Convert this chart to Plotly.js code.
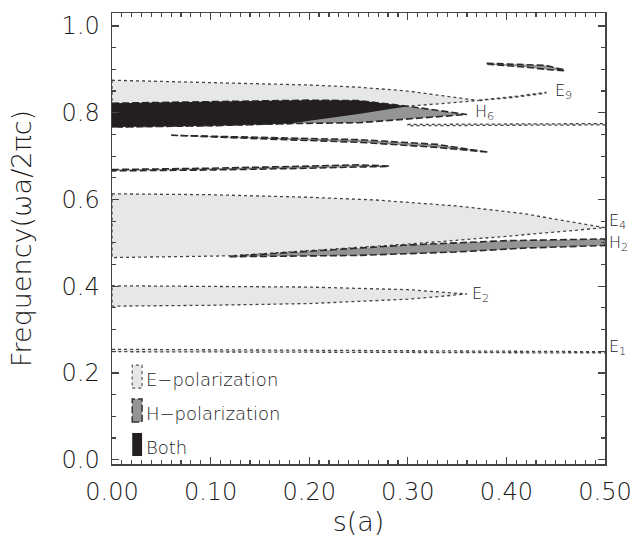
<!DOCTYPE html>
<html><head><meta charset="utf-8">
<script src="https://cdn.plot.ly/plotly-3.0.1.min.js"></script>
<style>html,body{margin:0;padding:0;background:#fff}#chart{width:635px;height:544px}</style>
</head><body><div id="chart"></div>
<script>
// ---- E-polarization gaps (s, frequency) ----
const e1S = [0, 0.25, 0.5];
const e1Top = [0.2545, 0.252, 0.249];
const e1Bot = [0.249, 0.247, 0.246];

const e2S = [0, 0.1, 0.2, 0.3, 0.36];
const e2Top = [0.401, 0.400, 0.398, 0.392, 0.382];
const e2Bot = [0.354, 0.356, 0.360, 0.370, 0.382];

const e4TopS = [0, 0.1, 0.2, 0.266, 0.35, 0.4155, 0.5];
const e4Top = [0.613, 0.611, 0.605, 0.599, 0.585, 0.568, 0.535];
const e4BotS = [0, 0.12, 0.2, 0.3, 0.4, 0.5];
const e4Bot = [0.466, 0.470, 0.482, 0.497, 0.515, 0.535];

const e6TopS = [0, 0.1, 0.2, 0.25, 0.3, 0.372];
const e6Top = [0.875, 0.870, 0.864, 0.859, 0.850, 0.828];
const e6BotS = [0, 0.1, 0.18, 0.25, 0.3, 0.372];
const e6Bot = [0.767, 0.770, 0.775, 0.797, 0.815, 0.828];

const e7S = [0.30, 0.40, 0.50];
const e7Top = [0.773, 0.774, 0.775];
const e7Bot = [0.770, 0.771, 0.772];

const e9S = [0.372, 0.41, 0.44];
const e9Top = [0.829, 0.838, 0.847];
const e9Bot = [0.828, 0.836, 0.845];

// ---- H-polarization gaps ----
const h2TopS = [0.12, 0.2, 0.3, 0.4, 0.5];
const h2Top = [0.469, 0.481, 0.495, 0.505, 0.509];
const h2BotS = [0.12, 0.25, 0.35, 0.42, 0.5];
const h2Bot = [0.468, 0.471, 0.479, 0.488, 0.494];

const h4S = [0, 0.1, 0.2, 0.25, 0.281];
const h4Top = [0.669, 0.672, 0.677, 0.680, 0.677];
const h4Bot = [0.666, 0.668, 0.672, 0.675, 0.676];

const h5S = [0.06, 0.15, 0.25, 0.33, 0.382];
const h5Top = [0.748, 0.744, 0.738, 0.727, 0.710];
const h5Bot = [0.747, 0.740, 0.732, 0.720, 0.709];

const h6TopS = [0, 0.1, 0.2, 0.25, 0.3, 0.36];
const h6Top = [0.822, 0.826, 0.829, 0.828, 0.815, 0.796];
const h6BotS = [0, 0.1, 0.18, 0.25, 0.3, 0.36];
const h6Bot = [0.767, 0.770, 0.775, 0.777, 0.785, 0.796];

const h8S = [0.38, 0.42, 0.44, 0.459];
const h8Top = [0.914, 0.911, 0.909, 0.899];
const h8Bot = [0.912, 0.905, 0.900, 0.897];

// ---- Complete gap (both polarizations) ----
const bTopS = [0, 0.1, 0.2, 0.25, 0.3];
const bTop = [0.822, 0.826, 0.829, 0.828, 0.815];
const bBotS = [0, 0.1, 0.18, 0.25, 0.3];
const bBot = [0.767, 0.770, 0.775, 0.797, 0.815];

// ---- labels ----
const gapLabels = ['E<sub>9</sub>', 'H<sub>6</sub>', 'E<sub>2</sub>'];
const gapLabelS = [0.447, 0.366, 0.363];
const gapLabelF = [0.849, 0.800, 0.382];
const edgeLabels = ['E<sub>4</sub>', 'H<sub>2</sub>', 'E<sub>1</sub>'];
const edgeLabelF = [0.549, 0.499, 0.258];

const legendNames = ['E\u2212polarization', 'H\u2212polarization', 'Both'];
const legendTop = [0.218, 0.140, 0.0616];
const legendBot = [0.165, 0.087, 0.0085];

const FONT = '"DejaVu Sans", Lato, sans-serif';
const W = 200;
const TXT = '#1a1a1a';
const EFILL = '#e6e7e8', HFILL = '#939496', BFILL = '#231f20';

function poly(topS, top, botS, bot, fill, dash, width, lc) {
  const x = topS.concat(botS.slice().reverse());
  const y = top.concat(bot.slice().reverse());
  x.push(topS[0]); y.push(top[0]);
  return {type: 'scatter', mode: 'lines', x: x, y: y, fill: 'toself', fillcolor: fill,
    line: {color: lc, width: width, dash: dash}, hoverinfo: 'skip', showlegend: false};
}
const ED = ['dot', 1.3, '#444'], HD = ['7px,3px', 1.6, '#2a2a2a'];
const traces = [
  poly(e1S, e1Top, e1S, e1Bot, EFILL, ...ED),
  poly(e2S, e2Top, e2S, e2Bot, EFILL, ...ED),
  poly(e4TopS, e4Top, e4BotS, e4Bot, EFILL, ...ED),
  poly(e6TopS, e6Top, e6BotS, e6Bot, EFILL, ...ED),
  poly(e7S, e7Top, e7S, e7Bot, EFILL, ...ED),
  poly(e9S, e9Top, e9S, e9Bot, EFILL, ...ED),
  poly(h2TopS, h2Top, h2BotS, h2Bot, HFILL, ...HD),
  poly(h4S, h4Top, h4S, h4Bot, HFILL, ...HD),
  poly(h5S, h5Top, h5S, h5Bot, HFILL, ...HD),
  poly(h6TopS, h6Top, h6BotS, h6Bot, HFILL, ...HD),
  poly(h8S, h8Top, h8S, h8Bot, HFILL, ...HD),
  poly(bTopS, bTop, bBotS, bBot, BFILL, 'solid', 0, BFILL)
];

const lblFont = {family: FONT, size: 16, color: TXT, weight: W};
const annotations = gapLabels.map((t, i) => ({
  x: gapLabelS[i], y: gapLabelF[i], xref: 'x', yref: 'y', text: t, showarrow: false,
  xanchor: 'left', yanchor: 'middle', font: lblFont
}));
edgeLabels.forEach((t, i) => annotations.push({
  x: 1.004, y: edgeLabelF[i], xref: 'paper', yref: 'y', text: t, showarrow: false,
  xanchor: 'left', yanchor: 'middle', font: lblFont
}));
const legFill = [EFILL, HFILL, BFILL];
const legLine = [{color: '#555', width: 1.2, dash: 'dot'}, {color: '#333', width: 1.5, dash: '7px,3px'}, {color: BFILL, width: 0}];
const shapes = [];
legendNames.forEach((n, i) => {
  shapes.push({type: 'rect', xref: 'x', yref: 'y', x0: 0.0205, x1: 0.0305, y0: legendBot[i], y1: legendTop[i],
    fillcolor: legFill[i], line: legLine[i]});
  annotations.push({x: 0.032, y: (legendTop[i] + legendBot[i]) / 2 - 0.006, xref: 'x', yref: 'y', text: n,
    showarrow: false, xanchor: 'left', yanchor: 'middle', font: {family: FONT, size: 18, color: TXT, weight: W}});
});

const axisCommon = {
  showline: true, linecolor: '#444', linewidth: 1.5, mirror: 'ticks', ticks: 'inside',
  tickcolor: '#444', tickwidth: 1.2, ticklen: 7, showgrid: false, zeroline: false,
  tickfont: {family: FONT, size: 24, color: TXT, weight: W}
};
const layout = {
  width: 635, height: 544, paper_bgcolor: '#fff', plot_bgcolor: '#fff',
  margin: {l: 112, r: 30, t: 13, b: 80},
  showlegend: false,
  xaxis: Object.assign({}, axisCommon, {range: [0, 0.5], dtick: 0.1, tick0: 0, tickformat: '.2f',
    minor: {dtick: 0.01, ticks: 'inside', ticklen: 4, tickcolor: '#444'},
    ticklabelstandoff: 6,
    title: {text: 's(a)', font: {family: FONT, size: 27, color: TXT, weight: W}, standoff: 6}}),
  yaxis: Object.assign({}, axisCommon, {range: [-0.01, 1.03], dtick: 0.2, tick0: 0, tickformat: '.1f',
    minor: {dtick: 0.05, ticks: 'inside', ticklen: 4, tickcolor: '#444'},
    ticklabelstandoff: 6,
    title: {text: 'Frequency(\u03c9a/2\u03c0c)', font: {family: FONT, size: 27, color: TXT, weight: W}, standoff: 22}}),
  annotations: annotations, shapes: shapes
};
Plotly.newPlot('chart', traces, layout, {staticPlot: true, displayModeBar: false});
</script></body></html>
